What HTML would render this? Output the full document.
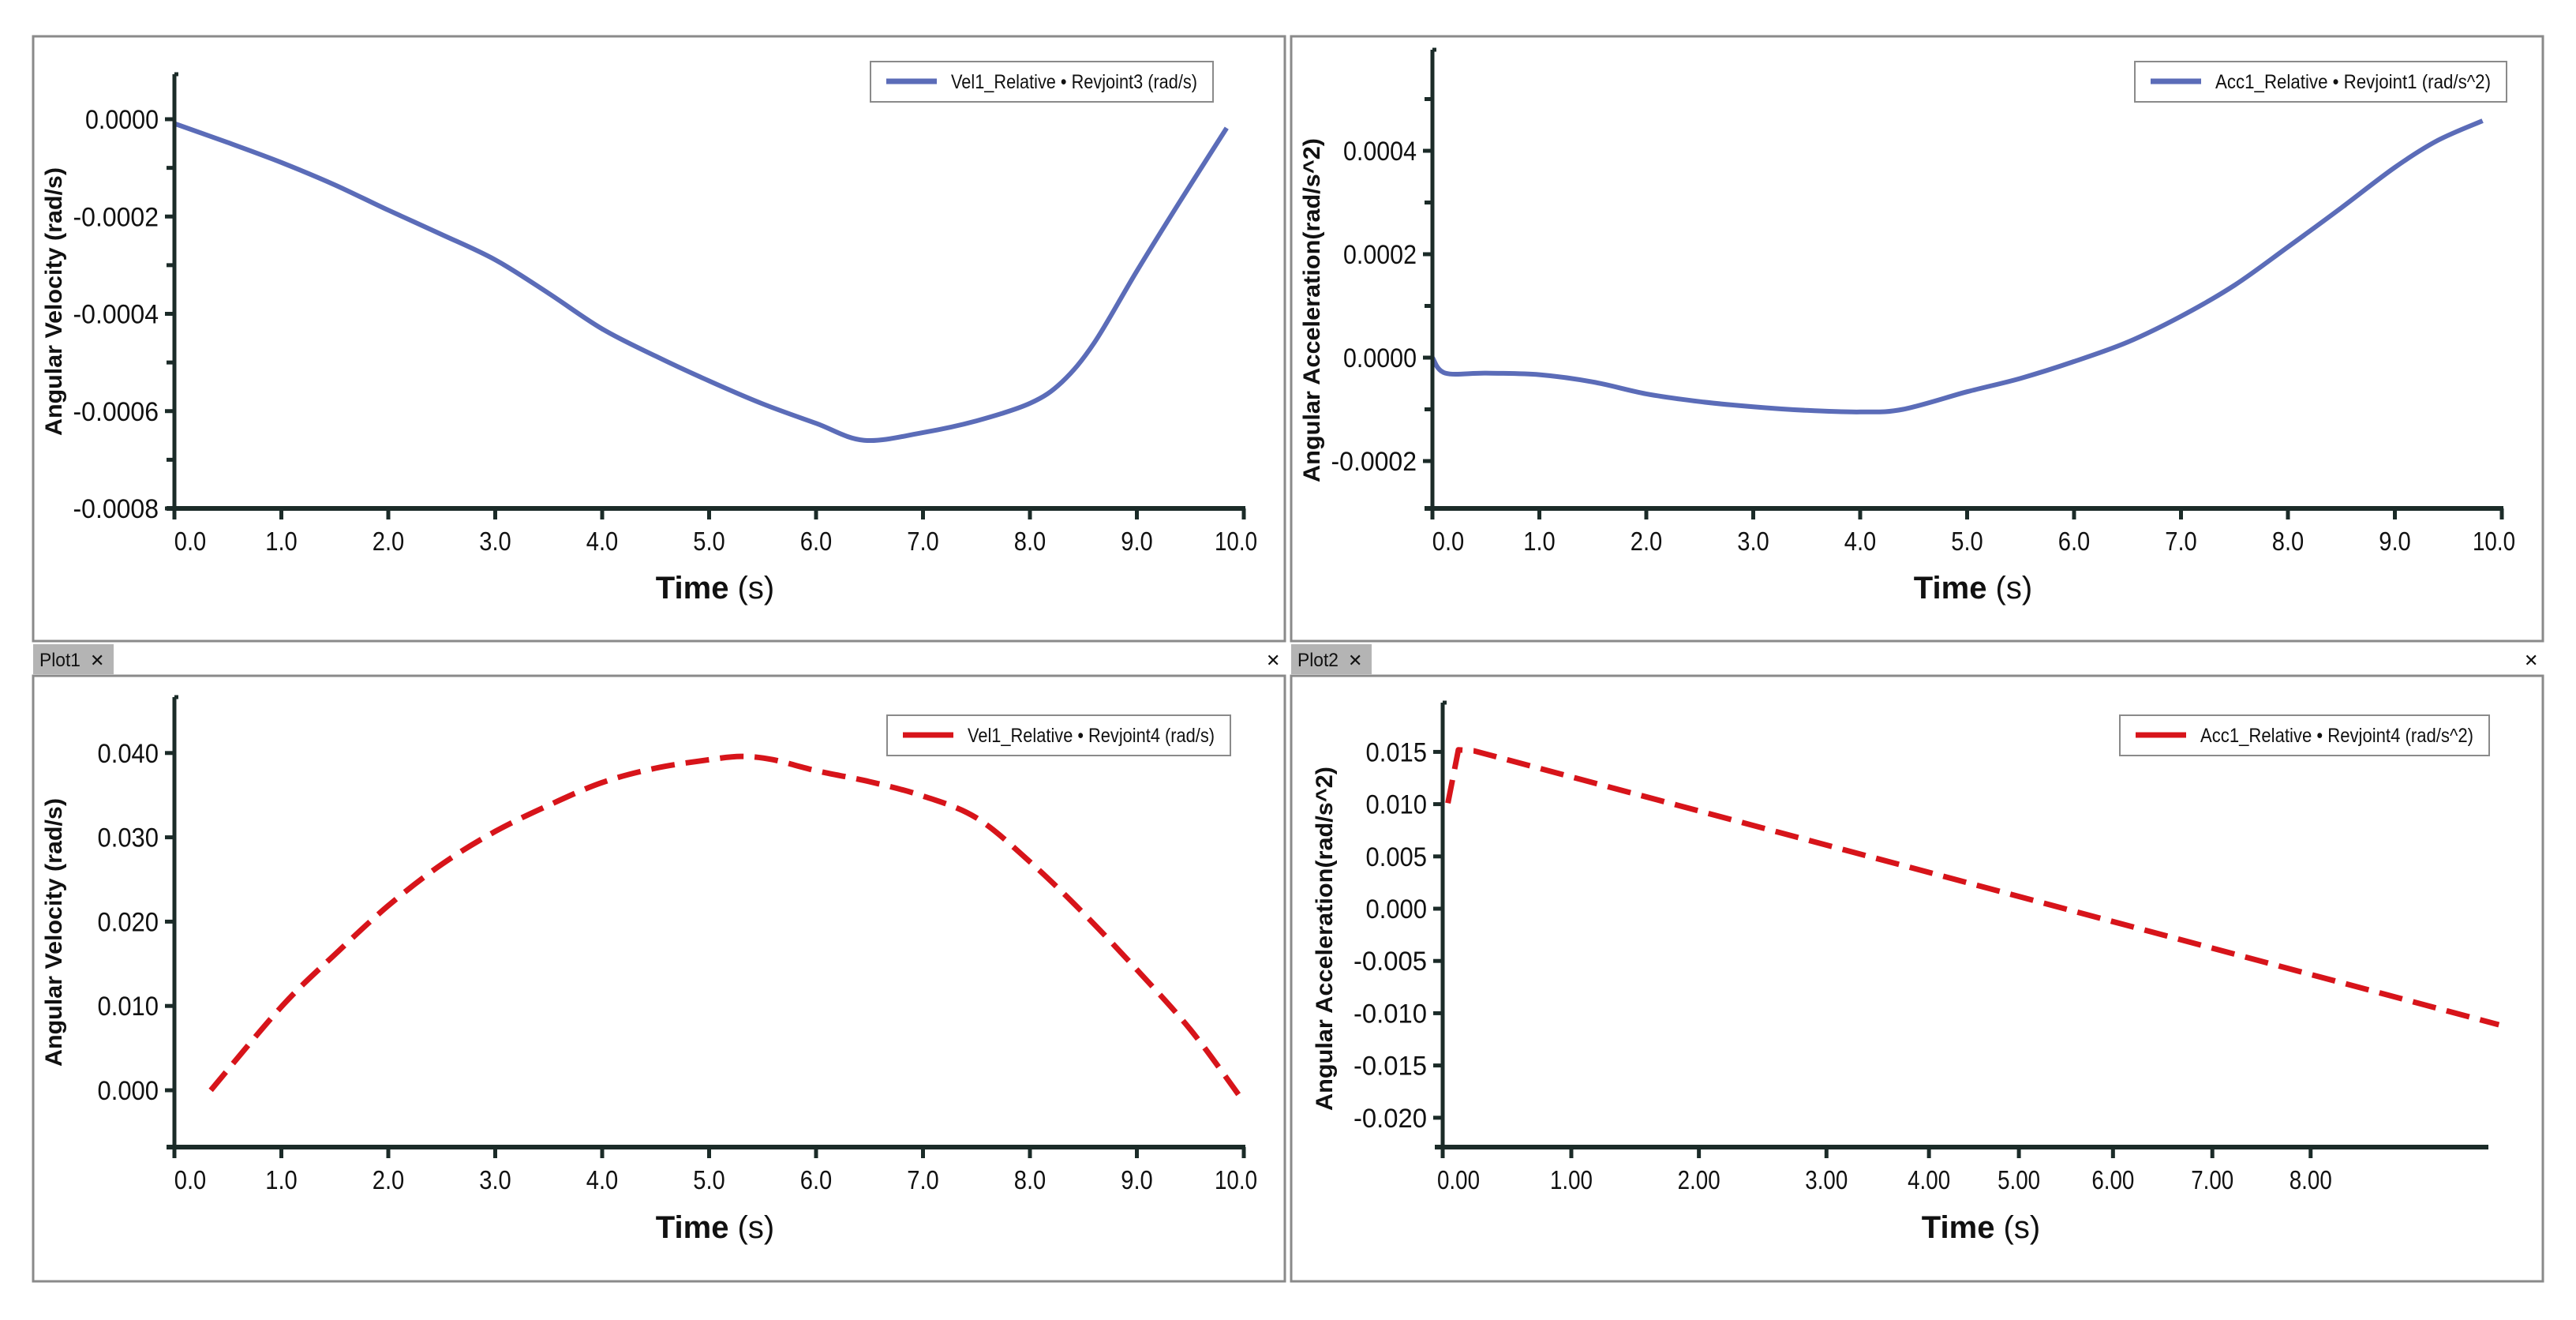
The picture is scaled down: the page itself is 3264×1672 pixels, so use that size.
<!DOCTYPE html>
<html><head><meta charset="utf-8">
<style>
html,body{margin:0;padding:0;background:#fff;}
body{width:3264px;height:1672px;position:relative;overflow:hidden;}
svg{position:absolute;left:0;top:0;}
text{font-family:"Liberation Sans Narrow","Liberation Sans",sans-serif;fill:#111;}
</style></head>
<body>
<svg id="chart" width="3264" height="1672" viewBox="0 0 3264 1672" xmlns="http://www.w3.org/2000/svg"></svg>
<script>
// ---- Data ----
const tlTime = [0, 0.5, 1, 1.5, 2, 2.5, 3, 3.5, 4, 4.5, 5, 5.5, 6, 6.45, 7, 7.5, 8, 8.3, 8.6, 9, 9.4, 9.84];
const tlVel  = [-0.000009, -0.000048, -0.000089, -0.000135, -0.000187, -0.000237, -0.000289, -0.000358, -0.000431, -0.000487, -0.000538, -0.000585, -0.000625, -0.00066, -0.000644, -0.00062, -0.000584, -0.00054, -0.00046, -0.000312, -0.00017, -0.000018];
const trTime = [0, 0.12, 0.5, 1, 1.5, 2, 2.5, 3, 3.5, 4, 4.4, 5, 5.5, 6, 6.5, 7, 7.5, 8, 8.5, 9, 9.4, 9.82];
const trAcc  = [0, -0.00003, -0.00003, -0.000033, -0.000047, -0.00007, -0.000085, -0.000095, -0.000102, -0.000105, -0.0001, -0.000066, -0.00004, -0.0000075, 0.00003, 0.00008, 0.00014, 0.000214, 0.00029, 0.000368, 0.00042, 0.000458];
const blTime = [0.34, 1, 1.5, 2, 2.5, 3, 3.5, 4, 4.5, 5, 5.3, 5.6, 6, 6.5, 7, 7.5, 8, 8.5, 9, 9.5, 9.95];
const blVel  = [0, 0.0099, 0.0161, 0.0219, 0.0268, 0.0307, 0.0338, 0.0365, 0.0382, 0.0392, 0.0396, 0.0392, 0.0379, 0.0366, 0.0349, 0.0323, 0.0271, 0.021, 0.0143, 0.0072, -0.0005];
const brTime = [0.05, 0.15, 0.3, 10.1];
const brAcc  = [0.0101, 0.0152, 0.0151, -0.0111];
const xTicksA = [0,1,2,3,4,5,6,7,8,9,10];
const xLabelsA = ["0.0","1.0","2.0","3.0","4.0","5.0","6.0","7.0","8.0","9.0","10.0"];
const brXTicks = [0, 1.23, 2.45, 3.67, 4.65, 5.51, 6.41, 7.36, 8.30];
const brXLabels = ["0.00","1.00","2.00","3.00","4.00","5.00","6.00","7.00","8.00"];
const tlYTicks = [0, -0.0002, -0.0004, -0.0006, -0.0008];
const tlYLabels = ["0.0000","-0.0002","-0.0004","-0.0006","-0.0008"];
const trYTicks = [0.0004, 0.0002, 0, -0.0002];
const trYLabels = ["0.0004","0.0002","0.0000","-0.0002"];
const blYTicks = [0.04, 0.03, 0.02, 0.01, 0];
const blYLabels = ["0.040","0.030","0.020","0.010","0.000"];
const brYTicks = [0.015, 0.01, 0.005, 0, -0.005, -0.01, -0.015, -0.02];
const brYLabels = ["0.015","0.010","0.005","0.000","-0.005","-0.010","-0.015","-0.020"];
const minorTL = [-0.0001,-0.0003,-0.0005,-0.0007];
const minorTR = [0.0005,0.0003,0.0001,-0.0001];

const NS = "http://www.w3.org/2000/svg";
const svg = document.getElementById('chart');
function mk(tag, attrs, parent){
  const e = document.createElementNS(NS, tag);
  for (const k in attrs) e.setAttribute(k, attrs[k]);
  (parent||svg).appendChild(e);
  return e;
}
function txt(s, attrs, parent){ const t = mk('text', attrs, parent); t.textContent = s; return t; }

function frame(x,y,w,h,name){
  const r = mk('rect',{x:x,y:y,width:w,height:h,fill:'#fff',stroke:'#8a8a8a','stroke-width':3});
  
  
}
frame(42,46,1586,766,'top-left-panel');
frame(1636,46,1586,766,'top-right-panel');
frame(42,856,1586,767,'bottom-left-panel');
frame(1636,856,1586,767,'bottom-right-panel');
function tab(x,label,xClose,name){
  const g = mk('g',{});
  
  
  mk('rect',{x:x,y:816,width:102,height:38,fill:'#b4b4b4'},g);
  txt(label,{x:x+8,y:844,'font-size':24,textLength:52,lengthAdjust:'spacingAndGlyphs'}, g);
  txt('✕',{x:x+72,y:844,'font-size':22,'font-family':'DejaVu Sans'}, g);
  const c = txt('✕',{x:xClose,y:844,'font-size':22,'font-family':'DejaVu Sans'});
  
  
}
tab(42,'Plot1',1604,'plot1-tab');
tab(1636,'Plot2',3198,'plot2-tab');

function smoothPath(pts){
  let d = 'M' + pts[0][0].toFixed(1) + ',' + pts[0][1].toFixed(1);
  for (let i=0;i<pts.length-1;i++){
    const p0 = pts[Math.max(0,i-1)], p1 = pts[i], p2 = pts[i+1], p3 = pts[Math.min(pts.length-1,i+2)];
    const c1x = p1[0] + (p2[0]-p0[0])/6, c1y = p1[1] + (p2[1]-p0[1])/6;
    const c2x = p2[0] - (p3[0]-p1[0])/6, c2y = p2[1] - (p3[1]-p1[1])/6;
    d += ' C' + c1x.toFixed(1)+','+c1y.toFixed(1)+' '+c2x.toFixed(1)+','+c2y.toFixed(1)+' '+p2[0].toFixed(1)+','+p2[1].toFixed(1);
  }
  return d;
}

function plot(cfg){
  const g = mk('g',{});
  
  
  const X = v => cfg.x0 + v * cfg.xs;
  const Y = v => cfg.y0 - v * cfg.ys;
  const AX = '#1b2b28';
  const pts = cfg.xs_.map((t,i)=>[X(t), Y(cfg.ys_[i])]);
  let d;
  if (cfg.smooth) d = smoothPath(pts);
  else d = pts.map((p,i)=>(i?'L':'M')+p[0].toFixed(1)+','+p[1].toFixed(1)).join(' ');
  const p = mk('path',{d:d,fill:'none',stroke:cfg.color,'stroke-width':cfg.dash?7:6,'stroke-linejoin':'round','stroke-dasharray':cfg.dash?'30 14':'none'},g);
  
  
  const ya = mk('line',{x1:cfg.axX,y1:cfg.axTop,x2:cfg.axX,y2:cfg.axBottom+2,stroke:AX,'stroke-width':5},g);
  
  
  const xa = mk('line',{x1:cfg.axX-10,y1:cfg.axBottom,x2:cfg.axRight,y2:cfg.axBottom,stroke:AX,'stroke-width':6},g);
  
  
  mk('line',{x1:cfg.axX,y1:cfg.axTop,x2:cfg.axX+5,y2:cfg.axTop,stroke:AX,'stroke-width':5},g);
  cfg.xt.forEach((t,i)=>{
    const x = X(t);
    mk('line',{x1:x,y1:cfg.axBottom,x2:x,y2:cfg.axBottom+14,stroke:AX,'stroke-width':5},g);
    let lx = x; if(i===0) lx += 20; if(cfg.xl[i]==='10.0') lx -= 10;
    const l = txt(cfg.xl[i],{x:lx,y:cfg.xLabY,'font-size':33,'text-anchor':'middle',textLength:cfg.xl[i].length*13.5,lengthAdjust:'spacingAndGlyphs'},g);
    
    
  });
  cfg.yt.forEach((v,i)=>{
    const y = Y(v);
    mk('line',{x1:cfg.axX-12,y1:y,x2:cfg.axX,y2:y,stroke:AX,'stroke-width':5},g);
    const l = txt(cfg.yl[i],{x:cfg.axX-20,y:y+12,'font-size':34,'text-anchor':'end',textLength:cfg.yl[i].length*15.5,lengthAdjust:'spacingAndGlyphs'},g);
    
    
  });
  (cfg.minor||[]).forEach(v=>{
    const y = Y(v);
    mk('line',{x1:cfg.axX-10,y1:y,x2:cfg.axX,y2:y,stroke:AX,'stroke-width':5},g);
  });
  const xt = mk('text',{x:cfg.xTitleX,y:cfg.xTitleY,'font-size':40,'text-anchor':'middle'},g);
  xt.innerHTML = '<tspan font-weight="bold">Time</tspan><tspan> (s)</tspan>';
  
  
  const yt = txt(cfg.yTitle,{x:0,y:0,'font-size':30,'font-weight':'bold','text-anchor':'middle','font-family':'Liberation Sans, sans-serif',textLength:cfg.yTitleLen,lengthAdjust:'spacingAndGlyphs',transform:'translate('+cfg.yTitleX+','+cfg.yTitleY+') rotate(-90)'},g);
  
  
  const lg = mk('g',{},g);
  
  
  mk('rect',{x:cfg.lx,y:cfg.ly,width:cfg.lw,height:51,fill:'#fff',stroke:'#8a8a8a','stroke-width':2},lg);
  mk('line',{x1:cfg.lx+20,y1:cfg.ly+25,x2:cfg.lx+84,y2:cfg.ly+25,stroke:cfg.color,'stroke-width':7},lg);
  txt(cfg.legend,{x:cfg.lx+102,y:cfg.ly+34,'font-size':25,textLength:cfg.lw-122,lengthAdjust:'spacingAndGlyphs'},lg);
}

plot({name:'velocity-revjoint3-chart', xs_:tlTime, ys_:tlVel, color:'#5b6cb8', dash:false, smooth:true,
  x0:221, xs:135.5, y0:151, ys:616250,
  axX:221, axTop:94, axBottom:644, axRight:1578, xt:xTicksA, xl:xLabelsA, xLabY:697,
  yt:tlYTicks, yl:tlYLabels, minor:minorTL, xTitleX:906, xTitleY:758,
  yTitle:'Angular Velocity (rad/s)', yTitleLen:340, yTitleX:78, yTitleY:382,
  lx:1103, ly:78, lw:434, legend:'Vel1_Relative • Revjoint3  (rad/s)'});
plot({name:'acceleration-revjoint1-chart', xs_:trTime, ys_:trAcc, color:'#5b6cb8', dash:false, smooth:true,
  x0:1815, xs:135.5, y0:453, ys:655000,
  axX:1815, axTop:63, axBottom:644, axRight:3172, xt:xTicksA, xl:xLabelsA, xLabY:697,
  yt:trYTicks, yl:trYLabels, minor:minorTR, xTitleX:2500, xTitleY:758,
  yTitle:'Angular Acceleration(rad/s^2)', yTitleLen:436, yTitleX:1672, yTitleY:393,
  lx:2705, ly:78, lw:471, legend:'Acc1_Relative • Revjoint1  (rad/s^2)'});
plot({name:'velocity-revjoint4-chart', xs_:blTime, ys_:blVel, color:'#d7141a', dash:true, smooth:true,
  x0:221, xs:135.5, y0:1381, ys:10680,
  axX:221, axTop:883, axBottom:1453, axRight:1578, xt:xTicksA, xl:xLabelsA, xLabY:1506,
  yt:blYTicks, yl:blYLabels, minor:[], xTitleX:906, xTitleY:1568,
  yTitle:'Angular Velocity (rad/s)', yTitleLen:340, yTitleX:78, yTitleY:1181,
  lx:1124, ly:906, lw:435, legend:'Vel1_Relative • Revjoint4  (rad/s)'});
plot({name:'acceleration-revjoint4-chart', xs_:brTime, ys_:brAcc, color:'#d7141a', dash:true, smooth:false,
  x0:1828, xs:132.5, y0:1151, ys:13240,
  axX:1828, axTop:890, axBottom:1453, axRight:3153, xt:brXTicks, xl:brXLabels, xLabY:1506,
  yt:brYTicks, yl:brYLabels, minor:[], xTitleX:2510, xTitleY:1568,
  yTitle:'Angular Acceleration(rad/s^2)', yTitleLen:436, yTitleX:1688, yTitleY:1189,
  lx:2686, ly:906, lw:468, legend:'Acc1_Relative • Revjoint4  (rad/s^2)'});
</script>
</body></html>
